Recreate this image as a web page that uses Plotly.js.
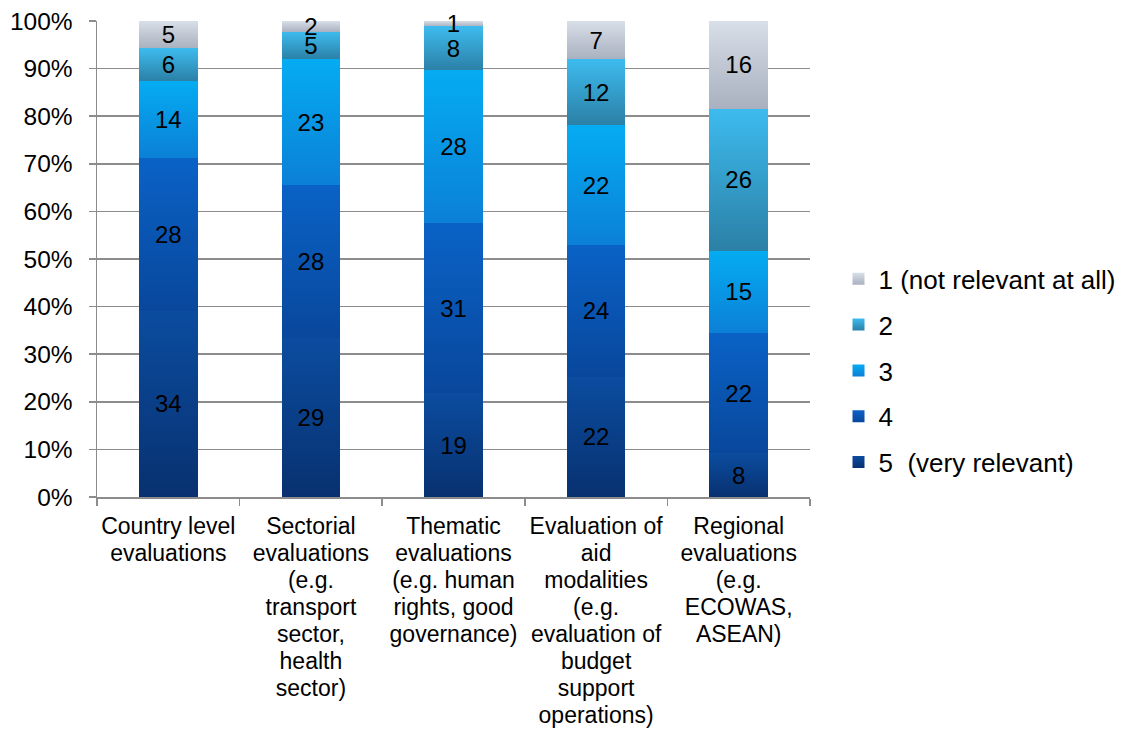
<!DOCTYPE html>
<html>
<head>
<meta charset="utf-8">
<script src="https://cdn.plot.ly/plotly-3.0.1.min.js"></script>
<style>
  html, body { margin: 0; padding: 0; background: #ffffff; }
  #chart { width: 1121px; height: 733px; }
</style>
</head>
<body>
<div id="chart"></div>
<script>
// Relevance ratings of evaluation types (number of respondents per rating)
const categories = [
  "Country level<br>evaluations",
  "Sectorial<br>evaluations<br>(e.g.<br>transport<br>sector,<br>health<br>sector)",
  "Thematic<br>evaluations<br>(e.g. human<br>rights, good<br>governance)",
  "Evaluation of<br>aid<br>modalities<br>(e.g.<br>evaluation of<br>budget<br>support<br>operations)",
  "Regional<br>evaluations<br>(e.g.<br>ECOWAS,<br>ASEAN)"
];

const rating5 = [34, 29, 19, 22, 8];
const rating4 = [28, 28, 31, 24, 22];
const rating3 = [14, 23, 28, 22, 15];
const rating2 = [6, 5, 8, 12, 26];
const rating1 = [5, 2, 1, 7, 16];

const seriesNames = ["5 \u00a0(very relevant)", "4", "3", "2", "1 (not relevant at all)"];
const seriesValues = [rating5, rating4, rating3, rating2, rating1];

// top / bottom shades of each band
const shades = [
  ["#0b4c9f", "#083170"],
  ["#0a62c6", "#08479c"],
  ["#05acf2", "#0b80d6"],
  ["#3dbbee", "#2b80a6"],
  ["#d8dfe8", "#a9b0bf"]
];

const FONT = "Liberation Sans, Arial, Helvetica, sans-serif";
const CAT_SIZE = 23;
const CAT_LINE_PX = 27;

const traces = seriesValues.map(function (vals, i) {
  return {
    type: "bar",
    name: seriesNames[i],
    x: categories,
    y: vals,
    text: vals.map(String),
    texttemplate: "%{text}",
    textposition: "inside",
    insidetextanchor: "middle",
    textangle: 0,
    constraintext: "none",
    cliponaxis: false,
    textfont: { family: FONT, size: 24, color: "#000000" },
    marker: { color: shades[i][0], line: { width: 0 } },
    legendgroup: "g" + i,
    legendrank: 5 - i,
    hoverinfo: "skip"
  };
});

const layout = {
  width: 1121,
  height: 733,
  paper_bgcolor: "#ffffff",
  plot_bgcolor: "#ffffff",
  margin: { l: 97, r: 311, t: 21, b: 236 },
  barmode: "stack",
  barnorm: "percent",
  bargap: 0.59,
  font: { family: FONT, color: "#000000" },
  showlegend: true,
  uniformtext: { mode: "show", minsize: 24 },
  xaxis: {
    type: "category",
    showline: true,
    linecolor: "#8c8c8c",
    linewidth: 1.5,
    ticks: "outside",
    tickson: "boundaries",
    ticklen: 7,
    tickcolor: "#8c8c8c",
    tickwidth: 1.5,
    showgrid: false,
    tickangle: 0,
    automargin: false,
    tickfont: { family: FONT, size: CAT_SIZE, color: "#000000" },
    ticklabelstandoff: 8
  },
  yaxis: {
    range: [0, 100],
    dtick: 10,
    ticksuffix: "%",
    showline: true,
    linecolor: "#8c8c8c",
    linewidth: 1.5,
    ticks: "outside",
    ticklen: 7,
    tickcolor: "#8c8c8c",
    tickwidth: 1.5,
    showgrid: true,
    gridcolor: "#8c8c8c",
    gridwidth: 1.5,
    zeroline: false,
    automargin: false,
    tickfont: { family: FONT, size: 24.5, color: "#000000" },
    ticklabelstandoff: 11
  },
  legend: {
    xref: "container",
    yref: "container",
    x: 0.748,
    xanchor: "left",
    y: 0.494,
    yanchor: "middle",
    traceorder: "grouped",
    tracegroupgap: 9,
    font: { family: FONT, size: 26, color: "#000000" },
    bgcolor: "rgba(0,0,0,0)"
  }
};

// Excel-like shading inside each band, and tighter multi-line category labels
function finish(gd) {
  const svg = gd.querySelector("svg.main-svg");
  let defs = svg.querySelector("defs");
  if (!defs) {
    defs = document.createElementNS("http://www.w3.org/2000/svg", "defs");
    svg.insertBefore(defs, svg.firstChild);
  }
  shades.forEach(function (pair, i) {
    const g = document.createElementNS("http://www.w3.org/2000/svg", "linearGradient");
    g.setAttribute("id", "band" + i);
    g.setAttribute("x1", "0"); g.setAttribute("y1", "0");
    g.setAttribute("x2", "0"); g.setAttribute("y2", "1");
    [[0, pair[0]], [1, pair[1]]].forEach(function (s) {
      const st = document.createElementNS("http://www.w3.org/2000/svg", "stop");
      st.setAttribute("offset", s[0]);
      st.setAttribute("stop-color", s[1]);
      g.appendChild(st);
    });
    defs.appendChild(g);
  });
  const barTraces = gd.querySelectorAll(".barlayer .trace");
  barTraces.forEach(function (tr, i) {
    tr.querySelectorAll(".point path").forEach(function (p) {
      p.style.fill = "url(#band" + i + ")";
    });
  });
  gd.querySelectorAll(".legend .traces").forEach(function (item) {
    const d = item.__data__;
    const idx = d && d[0] && d[0].trace ? d[0].trace.index : null;
    if (idx === null) return;
    item.querySelectorAll(".legendpoints path").forEach(function (p) {
      p.style.fill = "url(#band" + idx + ")";
    });
  });
  const ratio = CAT_LINE_PX / (1.3 * CAT_SIZE);
  gd.querySelectorAll(".xtick text tspan.line").forEach(function (t) {
    const dy = parseFloat(t.getAttribute("dy"));
    if (!isNaN(dy)) t.setAttribute("dy", (dy * ratio) + "em");
  });
}

Plotly.newPlot("chart", traces, layout, { staticPlot: true, displayModeBar: false })
  .then(finish);
</script>
</body>
</html>
